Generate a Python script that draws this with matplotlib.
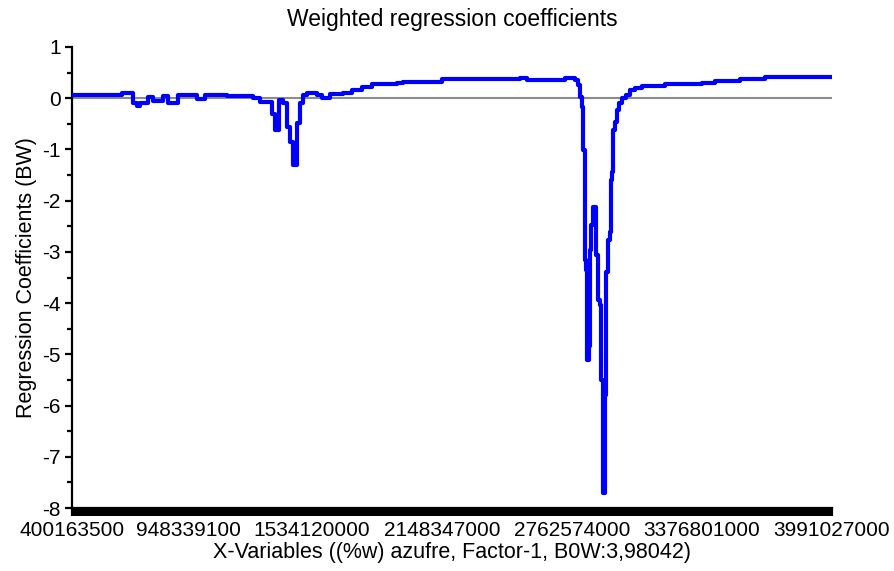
"""Weighted regression coefficients plot (PLS factor 1)."""

import matplotlib

matplotlib.use("Agg")
import matplotlib.pyplot as plt  # noqa: E402
from matplotlib.ticker import MultipleLocator  # noqa: E402

# X-variable positions (millions) where each step of the coefficient curve starts
x_mega = [
    400, 636, 688, 707, 721, 759, 783, 830, 854, 901, 991, 1029, 1133, 1255,
    1289, 1345, 1359, 1378, 1397, 1416, 1430, 1444, 1463, 1477, 1492, 1511,
    1558, 1581, 1619, 1681, 1723, 1771, 1818, 1936, 1964, 2148, 2517, 2550,
    2730, 2777, 2791, 2800, 2810, 2815, 2824, 2829, 2833, 2843, 2848, 2852,
    2862, 2876, 2885, 2895, 2899, 2909, 2918, 2923, 2933, 2942, 2947, 2952,
    2956, 2966, 2975, 2985, 2999, 3018, 3037, 3061, 3094, 3203, 3378, 3438,
    3557, 3675, 3991,
]
coef = [
    0.07, 0.11, -0.10, -0.15, -0.10, 0.03, -0.05, 0.04, -0.10, 0.06, -0.02,
    0.07, 0.04, 0.0, -0.07, -0.30, -0.62, -0.04, -0.09, -0.56, -0.85, -1.30,
    -0.48, -0.09, 0.06, 0.11, 0.06, 0.0, 0.08, 0.11, 0.16, 0.22, 0.28, 0.30,
    0.32, 0.37, 0.39, 0.36, 0.39, 0.36, 0.25, 0.02, -0.17, -1.01, -3.16,
    -3.36, -5.12, -4.83, -2.97, -2.48, -2.13, -3.07, -3.94, -4.04, -5.51,
    -7.71, -5.80, -3.40, -2.77, -2.61, -1.60, -1.44, -0.62, -0.46, -0.23,
    -0.09, 0.0, 0.06, 0.16, 0.20, 0.24, 0.27, 0.30, 0.34, 0.375, 0.42, 0.42,
]
x_ticks = [400163500, 948339100, 1534120000, 2148347000, 2762574000,
           3376801000, 3991027000]

plt.rcParams["font.family"] = ["Liberation Sans", "DejaVu Sans"]
plt.rcParams["axes.unicode_minus"] = False

fig = plt.figure(figsize=(8.95, 5.71), dpi=100)
ax = fig.add_axes([0.0804, 0.1103, 0.8492, 0.8074])

xs = [v * 1e6 for v in x_mega]
ax.axhline(0, color="#8c8c8c", lw=1.5, zorder=1)
ax.plot(xs, coef, drawstyle="steps-post", color="#0000ff", lw=3, zorder=3)

ax.set_xlim(x_ticks[0], x_ticks[-1])
ax.set_ylim(-8, 1)
ax.set_xticks(x_ticks)
ax.set_xticklabels([str(t) for t in x_ticks])
# dense variable ticks merge into a solid band under the plot
ax.xaxis.set_minor_locator(MultipleLocator(2e6))
ax.yaxis.set_major_locator(MultipleLocator(1))
ax.yaxis.set_minor_locator(MultipleLocator(0.5))

for side in ("top", "right"):
    ax.spines[side].set_visible(False)
ax.spines["left"].set_linewidth(1.6)
ax.spines["bottom"].set_linewidth(1.6)

ax.tick_params(axis="x", which="both", length=6, width=1.5, labelsize=15, pad=3)
ax.tick_params(axis="y", which="major", length=5, width=1.6, labelsize=15, pad=3)
ax.tick_params(axis="y", which="minor", length=3.5, width=1.6)

ax.set_title("Weighted regression coefficients", fontsize=16.5, pad=15)
ax.set_xlabel("X-Variables ((%w) azufre, Factor-1, B0W:3,98042)", fontsize=15.5, labelpad=2)
ax.set_ylabel("Regression Coefficients (BW)", fontsize=15.5, labelpad=4)

fig.savefig("out.png", dpi=100)
